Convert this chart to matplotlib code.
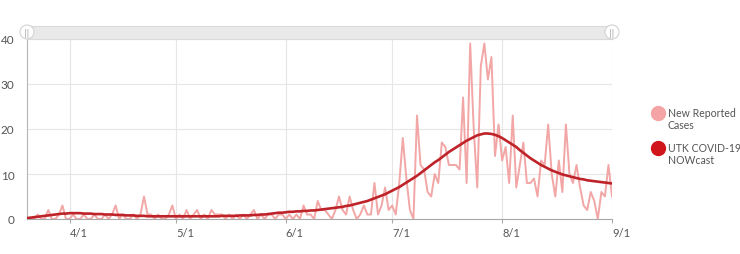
import matplotlib
matplotlib.use("Agg")
import matplotlib.pyplot as plt
import numpy as np
import pandas as pd
from matplotlib.patches import Rectangle, Circle

plt.rcParams["font.family"] = ["Lato", "DejaVu Sans"]

# daily values, 2020-03-20 .. 2020-09-01
start_date = "2020-03-20"
end_date = "2020-09-01"

new_cases = [
    # Mar 20 - Mar 31
    0, 0, 0, 1, 0, 0, 2, 0, 0, 1, 3, 0,
    # Apr
    0, 1, 0, 0, 1, 0, 0, 1, 0, 0, 1, 0, 1, 3, 0, 1, 0, 0, 1, 0,
    1, 5, 1, 1, 0, 1, 0, 0, 1, 3,
    # May
    0, 1, 0, 2, 0, 1, 2, 0, 1, 0, 2, 1, 1, 1, 0, 1, 0, 1, 0, 1,
    0, 1, 2, 0, 1, 0, 1, 1, 0, 1, 1,
    # Jun
    0, 1, 0, 1, 0, 3, 1, 1, 0, 4, 2, 2, 1, 0, 2, 5, 2, 1, 5, 2,
    0, 1, 3, 1, 1, 8, 1, 3, 7, 2,
    # Jul
    3, 1, 8, 18, 9, 2, 0, 23, 12, 11, 6, 5, 10, 8, 17, 16, 12, 12, 12, 11,
    27, 8, 39, 20, 7, 34, 39, 31, 36, 14, 21,
    # Aug - Sep 1
    13, 16, 8, 23, 7, 12, 17, 8, 8, 9, 5, 13, 12, 21, 10, 5, 13, 6, 21, 10,
    8, 12, 7, 3, 2, 6, 4, 0, 6, 5, 12, 5,
]

nowcast = [
    # Mar 20 - Mar 31
    0.2, 0.3, 0.4, 0.5, 0.6, 0.7, 0.8, 0.9, 1.0, 1.1, 1.2, 1.2,
    # Apr
    1.3, 1.3, 1.3, 1.3, 1.2, 1.2, 1.2, 1.1, 1.1, 1.1, 1.0, 1.0,
    1.0, 0.9, 0.9, 0.9, 0.8, 0.8, 0.8, 0.7, 0.7, 0.7, 0.6, 0.6, 0.6, 0.6, 0.6, 0.6, 0.6, 0.6,
    # May
    0.6, 0.6, 0.6, 0.6, 0.6, 0.6, 0.6, 0.6, 0.6, 0.6, 0.6, 0.6, 0.6,
    0.7, 0.7, 0.7, 0.7, 0.7, 0.8, 0.8, 0.8, 0.8, 0.9,
    0.9, 1.0, 1.0, 1.1, 1.2, 1.3, 1.4, 1.4,
    # Jun
    1.5, 1.6, 1.6, 1.7, 1.7, 1.8, 1.8, 1.9, 1.9, 2.0,
    2.1, 2.2, 2.3, 2.4, 2.5, 2.6, 2.7, 2.9, 3.0, 3.2,
    3.4, 3.6, 3.8, 4.0, 4.3, 4.6, 4.9, 5.2, 5.5, 5.9,
    # Jul
    6.3, 6.7, 7.1, 7.6, 8.1, 8.6, 9.1, 9.6,
    10.2, 10.8, 11.4, 12.0, 12.6, 13.1,
    13.7, 14.3, 14.9, 15.4, 15.9, 16.4,
    16.9, 17.4, 17.8, 18.2, 18.6, 18.8,
    19.0, 19.0, 18.9, 18.7, 18.4,
    # Aug - Sep 1
    18.0, 17.5, 17.0, 16.5, 16.0, 15.3, 14.7, 14.1, 13.5, 13.0, 12.5,
    12.0, 11.6, 11.2, 10.8, 10.5, 10.2, 9.9, 9.7, 9.5, 9.3,
    9.1, 8.9, 8.8, 8.6, 8.5, 8.4, 8.3, 8.2, 8.1, 8.0, 7.9,
]

tick_dates = ["2020-04-01", "2020-05-01", "2020-06-01", "2020-07-01", "2020-08-01", "2020-09-01"]
tick_labels = ["4/1", "5/1", "6/1", "7/1", "8/1", "9/1"]
y_ticks = [0, 10, 20, 30, 40]

series_names = ["New Reported\nCases", "UTK COVID-19\nNOWcast"]
cases_color = "#f2a6a6"
nowcast_color = "#bd2329"
legend_colors = ["#f4a4a4", "#d0161b"]
text_color = "#555555"

dates = pd.date_range(start_date, end_date, freq="D")

W, H = 740, 255
fig = plt.figure(figsize=(W / 100, H / 100), dpi=100)
ax = fig.add_axes([27 / W, 1 - 220 / H, (612 - 27) / W, 180 / H])

ax.plot(dates, new_cases, color=cases_color, lw=1.4, zorder=2)
ax.plot(dates, nowcast, color=nowcast_color, lw=1.9, zorder=3)

ax.set_xlim(pd.Timestamp(start_date), pd.Timestamp(end_date))
ax.set_ylim(0, 40)
ax.set_yticks(y_ticks)
ax.set_xticks(pd.to_datetime(tick_dates))
ax.set_xticklabels(tick_labels)
for lbl in ax.get_xticklabels():
    lbl.set_ha("left")

ax.tick_params(axis="y", length=0, pad=9, labelsize=8.5, labelcolor=text_color)
ax.tick_params(axis="x", length=3, width=0.8, color="#aaaaaa", pad=3, labelsize=8,
               labelcolor=text_color)
ax.grid(True, color="#e6e6e6", lw=0.8)
ax.set_axisbelow(True)
for s in ["top", "right"]:
    ax.spines[s].set_visible(False)
ax.spines["left"].set_color("#b5b5b5")
ax.spines["bottom"].set_color("#a8a8a8")
ax.spines["left"].set_linewidth(0.8)
ax.spines["bottom"].set_linewidth(0.8)

# overlay in pixel units for the range slider and legend
ov = fig.add_axes([0, 0, 1, 1], facecolor="none")
ov.set_xlim(0, W)
ov.set_ylim(H, 0)
ov.axis("off")

ov.add_patch(Rectangle((27, 27), 585, 13, facecolor="#e9e9e9", edgecolor="#dadada", lw=0.8))
for hx in [27, 612]:
    ov.add_patch(Circle((hx, 33), 7, facecolor="white", edgecolor="#d2d2d2", lw=0.8, zorder=5))
    ov.text(hx, 33.5, "||", ha="center", va="center", fontsize=5.5, color="#9a9a9a",
            family="DejaVu Sans", zorder=6)

legend_y = [114, 149]
for name, col, ly in zip(series_names, legend_colors, legend_y):
    ov.plot(658, ly, "o", ms=10, color=col)
    ov.text(668, ly - 6, name, ha="left", va="top", fontsize=7.6, color=text_color,
            linespacing=1.15)

fig.savefig("out.png", dpi=100)
